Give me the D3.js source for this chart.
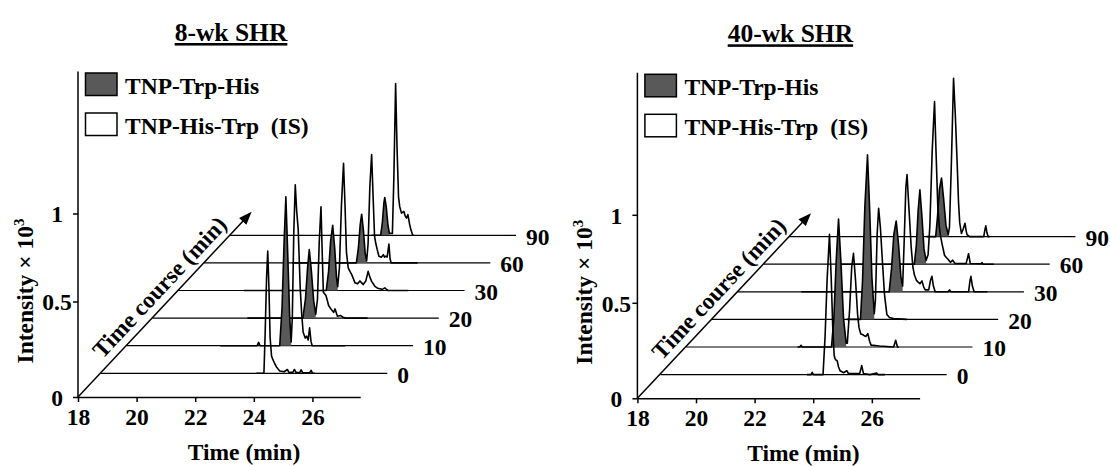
<!DOCTYPE html>
<html>
<head>
<meta charset="utf-8">
<script src="https://cdn.jsdelivr.net/npm/d3@7"></script>
<style>
  body { margin: 0; background: #fff; }
  text { font-family: 'Liberation Serif', 'Times New Roman', serif; font-weight: bold; fill: #000; }
</style>
</head>
<body>
<div id="graph"></div>
<script>
const width = 1110
const height = 466

const timePoints = ['0', '10', '20', '30', '60', '90']
const xTicks = [18, 20, 22, 24, 26]
const yTicks = [0, 0.5, 1]
const legendLabels = ['TNP-Trp-His', 'TNP-His-Trp  (IS)']
const panelTitles = ['8-wk SHR', '40-wk SHR']

// chromatograms, [time (min), intensity x 10^3], one per time-course point
const sh8_0 = [[23.3,0],[23.56,0],[23.60,0.2],[23.65,0.5],[23.69,0.652],[23.73,0.45],[23.77,0.19],[23.82,0.09],[23.87,0.07],[23.93,0.05],[24.0,0.03],[24.1,0.012],[24.25,0.008],[24.36,0.02],[24.42,0.004],[24.55,0.006],[24.60,0.02],[24.66,0.004],[24.78,0.004],[24.83,0.018],[24.88,0.003],[25.12,0.003],[25.17,0.015],[25.22,0],[25.3,0]]
const sh8_10 = [[21.19,0],[22.45,0],[22.50,0.017],[22.55,0],[23.22,0],[23.30,0.2],[23.37,0.55],[23.43,0.803],[23.49,0.5],[23.56,0.15],[23.61,0.02],[23.65,0.15],[23.70,0.6],[23.75,0.871],[23.80,0.72],[23.85,0.62],[23.92,0.3],[23.97,0.167],[24.02,0.07],[24.09,0.04],[24.14,0.05],[24.19,0.03],[24.24,0.094],[24.29,0.02],[24.33,0],[25.46,0]]
const sh8_20 = [[21.24,0],[23.13,0],[23.22,0.1],[23.29,0.26],[23.35,0.359],[23.42,0.25],[23.50,0.09],[23.57,0.02],[23.63,0.1],[23.69,0.4],[23.75,0.59],[23.79,0.35],[23.83,0.135],[23.92,0.118],[24.01,0.066],[24.09,0.048],[24.18,0.03],[24.23,0.048],[24.31,0.01],[24.41,0.014],[24.50,0.005],[24.58,0],[25.34,0]]
const sh8_30 = [[20.24,0],[23.05,0],[23.13,0.1],[23.20,0.26],[23.27,0.341],[23.34,0.22],[23.40,0.07],[23.44,0.02],[23.50,0.12],[23.57,0.45],[23.64,0.68],[23.69,0.45],[23.74,0.2],[23.80,0.118],[23.86,0.1],[23.92,0.083],[23.98,0.06],[24.03,0.04],[24.12,0.035],[24.20,0.05],[24.26,0.04],[24.31,0.031],[24.40,0.05],[24.48,0.10],[24.54,0.07],[24.60,0.048],[24.71,0.022],[24.80,0.012],[24.88,0.009],[24.96,0.006],[25.05,0.014],[25.12,0.004],[25.16,0],[25.85,0]]
const sh8_60 = [[21.0,0],[23.2,0],[23.27,0.08],[23.33,0.2],[23.38,0.255],[23.44,0.17],[23.50,0.05],[23.55,0.01],[23.60,0.1],[23.66,0.4],[23.72,0.573],[23.77,0.35],[23.82,0.14],[23.86,0.104],[23.91,0.07],[23.97,0.035],[24.05,0.03],[24.12,0.043],[24.16,0.03],[24.20,0.035],[24.25,0.03],[24.31,0.099],[24.35,0.02],[24.39,0],[25.29,0]]
const sh8_90 = [[22.84,0],[23.15,0],[23.21,0.07],[23.26,0.17],[23.29,0.198],[23.34,0.15],[23.40,0.05],[23.45,0.01],[23.55,0.01],[23.60,0.3],[23.66,0.82],[23.71,0.45],[23.76,0.2],[23.80,0.15],[23.86,0.116],[23.94,0.125],[23.99,0.1],[24.03,0.09],[24.08,0.108],[24.14,0.056],[24.18,0.03],[24.23,0.007],[24.26,0]]
const sh8_product = [null, [23.22, 23.61], [23.13, 23.57], [23.05, 23.44], [23.2, 23.55], [23.15, 23.46]]

const sh40_0 = [[23.0,0],[23.14,0],[23.18,0.012],[23.22,0],[23.55,0],[23.62,0.2],[23.69,0.5],[23.77,0.754],[23.83,0.5],[23.88,0.255],[23.93,0.1],[23.96,0.083],[24.0,0.075],[24.03,0.073],[24.08,0.04],[24.13,0.02],[24.25,0.01],[24.36,0.02],[24.42,0.005],[24.8,0.005],[24.87,0.047],[24.93,0.005],[25.15,0],[25.38,0.008],[25.42,0],[25.66,0]]
const sh40_10 = [[21.8,0],[21.88,0],[21.92,0.009],[21.96,0],[22.96,0],[23.04,0.15],[23.12,0.45],[23.20,0.685],[23.28,0.45],[23.37,0.15],[23.46,0.02],[23.50,0.02],[23.58,0.2],[23.65,0.42],[23.71,0.49],[23.78,0.35],[23.85,0.172],[23.90,0.1],[23.96,0.068],[24.02,0.065],[24.07,0.06],[24.13,0.055],[24.20,0.07],[24.26,0.03],[24.31,0.01],[24.6,0.005],[25.08,0],[25.15,0.035],[25.21,0],[25.26,0]]
const sh40_20 = [[22.6,0],[23.07,0],[23.14,0.2],[23.22,0.6],[23.31,0.892],[23.38,0.6],[23.46,0.22],[23.54,0.03],[23.58,0.1],[23.64,0.45],[23.69,0.588],[23.75,0.48],[23.82,0.30],[23.89,0.13],[23.97,0.026],[24.06,0.01],[24.2,0.004],[24.65,0]]
const sh40_30 = [[20.17,0],[23.17,0],[23.25,0.12],[23.33,0.3],[23.41,0.371],[23.49,0.25],[23.57,0.08],[23.63,0.03],[23.68,0.25],[23.74,0.55],[23.78,0.624],[23.84,0.45],[23.92,0.238],[23.98,0.13],[24.03,0.089],[24.10,0.06],[24.15,0.052],[24.22,0.042],[24.29,0.057],[24.35,0.025],[24.40,0.01],[24.52,0.01],[24.58,0.06],[24.63,0.081],[24.68,0.03],[24.74,0],[25.18,0],[25.23,0.01],[25.28,0],[25.88,0],[25.93,0.06],[25.96,0.081],[26.01,0.03],[26.07,0],[26.52,0]]
const sh40_60 = [[20.66,0],[23.15,0],[23.22,0.1],[23.28,0.28],[23.34,0.39],[23.41,0.25],[23.48,0.08],[23.55,0.02],[23.62,0.05],[23.68,0.2],[23.76,0.6],[23.84,0.882],[23.89,0.6],[23.95,0.307],[24.0,0.2],[24.04,0.151],[24.10,0.104],[24.18,0.047],[24.24,0.035],[24.30,0.026],[24.38,0.01],[24.46,0.021],[24.54,0.004],[24.92,0.004],[25.0,0.055],[25.06,0.004],[25.42,0.002],[25.46,0.008],[25.50,0],[25.86,0]]
const sh40_90 = [[22.69,0],[23.0,0],[23.06,0.1],[23.13,0.25],[23.20,0.307],[23.27,0.2],[23.35,0.06],[23.43,0.01],[23.47,0.05],[23.53,0.35],[23.61,0.857],[23.67,0.65],[23.73,0.40],[23.78,0.18],[23.82,0.073],[23.88,0.016],[23.94,0.04],[24.0,0.07],[24.04,0.03],[24.07,0.01],[24.16,0],[24.64,0],[24.68,0.035],[24.71,0.057],[24.75,0.02],[24.79,0],[24.84,0]]
const sh40_product = [null, [22.96, 23.46], [23.07, 23.54], [23.17, 23.63], [23.15, 23.55], [23.0, 23.43]]

const panels = [
  {title: panelTitles[0], traces: [sh8_0, sh8_10, sh8_20, sh8_30, sh8_60, sh8_90], product: sh8_product, origin: [78, 397]},
  {title: panelTitles[1], traces: [sh40_0, sh40_10, sh40_20, sh40_30, sh40_60, sh40_90], product: sh40_product, origin: [637.4, 398.3]}
]

const svg = d3.select('#graph')
  .append('svg')
  .attr('width', width)
  .attr('height', height)

const x = d3.scaleLinear().domain([18, 27.63]).range([0, 282.2])
const y = d3.scaleLinear().domain([0, 0.5, 1]).range([0, -95.5, -183.5])
const depth = d3.scalePoint().domain(timePoints).range([0, 5])
const depthX = d3.scaleLinear().domain([0, 5]).range([23, 151.75])
const depthY = d3.scaleLinear().domain([0, 5]).range([-23.7, -161.7])

const fontSize = 23.5

const drawPanel = (p) => {
  const g = svg.append('g').attr('transform', `translate(${p.origin[0]},${p.origin[1]})`)

  // title
  g.append('text')
    .attr('x', 153)
    .attr('y', -356)
    .attr('text-anchor', 'middle')
    .style('font-size', '25.5px')
    .style('text-decoration', 'underline')
    .text(p.title)

  // y axis
  g.append('line')
    .attr('x1', 0).attr('x2', 0)
    .attr('y1', 0).attr('y2', -325.5)
    .attr('stroke', '#000').attr('stroke-width', 1.5)

  const yAxis = g.append('g')
    .call(d3.axisLeft(y).tickValues(yTicks).tickSize(5).tickFormat(d3.format('')))
  yAxis.select('.domain').remove()
  yAxis.selectAll('line').attr('stroke-width', 1.5)
  yAxis.selectAll('text')
    .attr('x', -21)
    .attr('dy', '0.35em')
    .attr('text-anchor', 'middle')
    .style('font-size', fontSize + 'px')
    .attr('font-family', null)

  // x axis
  const xAxis = g.append('g')
    .call(d3.axisBottom(x).tickValues(xTicks).tickSize(5).tickSizeOuter(0))
  xAxis.select('.domain').attr('stroke-width', 1.5)
  xAxis.selectAll('line').attr('stroke-width', 1.5)
  xAxis.selectAll('text')
    .attr('y', 28)
    .attr('dy', 0)
    .style('font-size', fontSize + 'px')
    .attr('font-family', null)

  // axis titles
  const yLabel = g.append('text')
    .attr('transform', 'translate(-45,-106) rotate(-90)')
    .attr('text-anchor', 'middle')
    .style('font-size', fontSize + 'px')
  yLabel.append('tspan').text('Intensity × 10')
  yLabel.append('tspan').attr('dy', -9).style('font-size', '15px').text('3')

  g.append('text')
    .attr('x', 166)
    .attr('y', 63)
    .attr('text-anchor', 'middle')
    .style('font-size', fontSize + 'px')
    .text('Time (min)')

  // time course arrow
  const tipX = depthX(5.85)
  const tipY = depthY(5.85)
  const ang = Math.atan2(tipY, tipX)
  g.append('line')
    .attr('x1', 0).attr('y1', 0)
    .attr('x2', tipX - 8 * Math.cos(ang)).attr('y2', tipY - 8 * Math.sin(ang))
    .attr('stroke', '#000').attr('stroke-width', 1.5)
  g.append('path')
    .attr('d', 'M0,0 L-13,-5 L-13,5 Z')
    .attr('transform', `translate(${tipX},${tipY}) rotate(${ang * 180 / Math.PI})`)
    .attr('fill', '#000')

  const mid = 0.535
  const perp = 16
  g.append('text')
    .attr('transform', `translate(${tipX * mid + perp * Math.sin(ang)},${tipY * mid - perp * Math.cos(ang)}) rotate(${ang * 180 / Math.PI})`)
    .attr('text-anchor', 'middle')
    .attr('dy', '0.35em')
    .style('font-size', fontSize + 'px')
    .text('Time course (min)')

  // traces, back to front
  timePoints.slice().reverse().forEach((tp) => {
    const i = depth(tp)
    const ox = depthX(i)
    const oy = depthY(i)
    const data = p.traces[i]
    const tg = g.append('g').attr('transform', `translate(${ox},${oy})`)

    tg.append('line')
      .attr('x1', x(18)).attr('x2', x(27.77))
      .attr('y1', 0).attr('y2', 0)
      .attr('stroke', '#000').attr('stroke-width', 1.2)

    tg.append('text')
      .attr('x', x(27.77) + 10)
      .attr('y', 1)
      .attr('dy', '0.35em')
      .style('font-size', fontSize + 'px')
      .text(tp)

    const band = p.product[i]
    if (band) {
      const inBand = data.filter((d) => d[0] >= band[0] && d[0] <= band[1])
      tg.append('path')
        .datum(inBand)
        .attr('d', d3.area().x((d) => x(d[0])).y0(0).y1((d) => y(d[1])))
        .attr('fill', '#595959')
    }

    tg.append('path')
      .datum(data)
      .attr('d', d3.line().x((d) => x(d[0])).y((d) => y(d[1])))
      .attr('fill', 'none')
      .attr('stroke', '#000')
      .attr('stroke-width', 1.6)
      .attr('stroke-linejoin', 'round')
  })

  // legend
  legendLabels.forEach((label, i) => {
    const ly = -324 + i * 40
    g.append('rect')
      .attr('x', 7.5).attr('y', ly)
      .attr('width', 31.5).attr('height', 22.5)
      .attr('fill', i === 0 ? '#595959' : '#fff')
      .attr('stroke', '#000').attr('stroke-width', 1.5)
    g.append('text')
      .attr('x', 47)
      .attr('y', ly + 21)
      .style('font-size', fontSize + 'px')
      .style('white-space', 'pre')
      .text(label)
  })
}

panels.forEach(drawPanel)
</script>
</body>
</html>
